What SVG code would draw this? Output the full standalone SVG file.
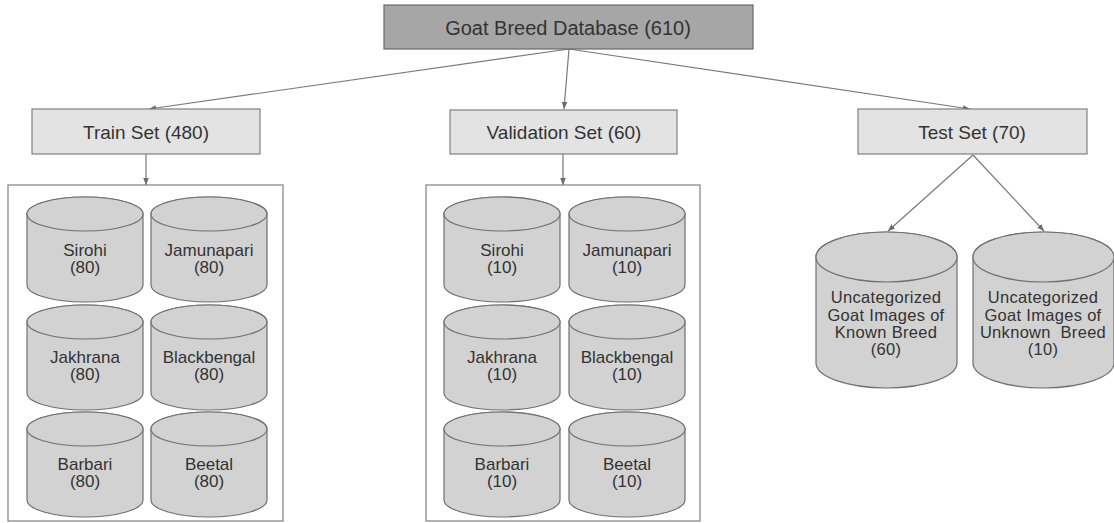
<svg xmlns="http://www.w3.org/2000/svg" xmlns:xlink="http://www.w3.org/1999/xlink" width="1114" height="523" viewBox="0 0 1114 523">
<style>
.txt{font-family:"Liberation Sans",Arial,sans-serif;fill:#333;text-anchor:middle}
.t20{font-size:20px}
.t19{font-size:19px}
.t17{font-size:17px}
.t16{font-size:16.5px;letter-spacing:0.3px}
.box{fill:#e3e3e3;stroke:#808080;stroke-width:1.2}
.root{fill:#a6a6a6;stroke:#6a6a6a;stroke-width:1.2}
.cont{fill:#fff;stroke:#808080;stroke-width:1.2}
.cyl{fill:#d2d2d2;stroke:#707070;stroke-width:1.2}
.conn line{stroke:#7a7a7a;stroke-width:1.2;fill:none;marker-end:url(#arr)}
</style>
<defs>
<marker id="arr" viewBox="0 0 10 10" refX="10" refY="5" markerWidth="7" markerHeight="7" markerUnits="userSpaceOnUse" orient="auto">
<path d="M0,1 L10,5 L0,9 z" fill="#6a6a6a"/>
</marker>
<g id="cylS">
<path class="cyl" d="M0,17 L0,88 A58,17 0 0 0 116,88 L116,17 A58,17 0 0 0 0,17 Z"/>
<ellipse class="cyl" cx="58" cy="17" rx="58" ry="17"/>
</g>
<g id="cylL">
<path class="cyl" d="M0,25 L0,131 A70.5,25 0 0 0 141,131 L141,25 A70.5,25 0 0 0 0,25 Z"/>
<ellipse class="cyl" cx="70.5" cy="25" rx="70.5" ry="25"/>
</g>
</defs>

<g id="containers">
<rect class="cont" x="8" y="185" width="275" height="336"/>
<rect class="cont" x="426" y="185" width="274" height="336"/>
</g>

<g class="conn" id="connectors">
<line x1="569" y1="49" x2="149" y2="109"/>
<line x1="569" y1="49" x2="564" y2="109"/>
<line x1="569" y1="49" x2="970" y2="109"/>
<line x1="146" y1="154" x2="146" y2="185"/>
<line x1="563" y1="154" x2="563" y2="185"/>
<line x1="973" y1="155" x2="888" y2="231"/>
<line x1="973" y1="155" x2="1044" y2="231"/>
</g>

<g id="root">
<rect class="root" x="384" y="5" width="369" height="44"/>
<text class="txt t20" x="568" y="35">Goat Breed Database (610)</text>
</g>

<g id="train">
<rect class="box" x="32" y="109" width="228" height="45"/>
<text class="txt t19" x="146" y="139">Train Set (480)</text>
</g>
<g id="validation">
<rect class="box" x="450" y="110" width="227" height="44"/>
<text class="txt t19" x="564" y="139">Validation Set (60)</text>
</g>
<g id="test">
<rect class="box" x="858" y="109" width="229" height="45"/>
<text class="txt t19" x="972" y="139">Test Set (70)</text>
</g>

<g id="train-sirohi"><use xlink:href="#cylS" x="27" y="197"/><text class="txt t17" x="85" y="256">Sirohi</text><text class="txt t17" x="85" y="273">(80)</text></g>
<g id="train-jamunapari"><use xlink:href="#cylS" x="151" y="197"/><text class="txt t17" x="209" y="256">Jamunapari</text><text class="txt t17" x="209" y="273">(80)</text></g>
<g id="train-jakhrana"><use xlink:href="#cylS" x="27" y="305"/><text class="txt t17" x="85" y="363">Jakhrana</text><text class="txt t17" x="85" y="380">(80)</text></g>
<g id="train-blackbengal"><use xlink:href="#cylS" x="151" y="305"/><text class="txt t17" x="209" y="363">Blackbengal</text><text class="txt t17" x="209" y="380">(80)</text></g>
<g id="train-barbari"><use xlink:href="#cylS" x="27" y="412"/><text class="txt t17" x="85" y="470">Barbari</text><text class="txt t17" x="85" y="487">(80)</text></g>
<g id="train-beetal"><use xlink:href="#cylS" x="151" y="412"/><text class="txt t17" x="209" y="470">Beetal</text><text class="txt t17" x="209" y="487">(80)</text></g>

<g id="val-sirohi"><use xlink:href="#cylS" x="444" y="197"/><text class="txt t17" x="502" y="256">Sirohi</text><text class="txt t17" x="502" y="273">(10)</text></g>
<g id="val-jamunapari"><use xlink:href="#cylS" x="569" y="197"/><text class="txt t17" x="627" y="256">Jamunapari</text><text class="txt t17" x="627" y="273">(10)</text></g>
<g id="val-jakhrana"><use xlink:href="#cylS" x="444" y="305"/><text class="txt t17" x="502" y="363">Jakhrana</text><text class="txt t17" x="502" y="380">(10)</text></g>
<g id="val-blackbengal"><use xlink:href="#cylS" x="569" y="305"/><text class="txt t17" x="627" y="363">Blackbengal</text><text class="txt t17" x="627" y="380">(10)</text></g>
<g id="val-barbari"><use xlink:href="#cylS" x="444" y="412"/><text class="txt t17" x="502" y="470">Barbari</text><text class="txt t17" x="502" y="487">(10)</text></g>
<g id="val-beetal"><use xlink:href="#cylS" x="569" y="412"/><text class="txt t17" x="627" y="470">Beetal</text><text class="txt t17" x="627" y="487">(10)</text></g>

<g id="test-known"><use xlink:href="#cylL" x="816" y="232"/>
<text class="txt t16" x="886" y="303">Uncategorized</text>
<text class="txt t16" x="886" y="321">Goat Images of</text>
<text class="txt t16" x="886" y="338">Known Breed</text>
<text class="txt t16" x="886" y="355">(60)</text></g>
<g id="test-unknown"><use xlink:href="#cylL" x="973" y="232"/>
<text class="txt t16" x="1043" y="303">Uncategorized</text>
<text class="txt t16" x="1043" y="321">Goat Images of</text>
<text class="txt t16" x="1043" y="338" style="white-space:pre">Unknown  Breed</text>
<text class="txt t16" x="1043" y="355">(10)</text></g>
</svg>
